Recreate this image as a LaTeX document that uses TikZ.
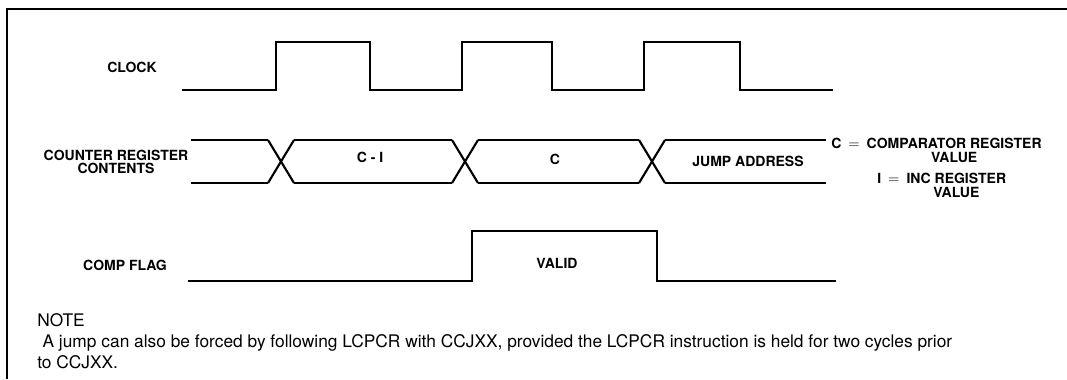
\documentclass[tikz,border=0pt]{standalone}
\usepackage{fontspec}
\setmainfont{TeX Gyre Heros}
\usetikzlibrary{positioning}

\tikzset{
  sig/.style={line width=1.6pt, line join=miter},
  lbl/.style={font=\fontsize{10.5}{9.5}\selectfont\bfseries, align=center, inner sep=0pt},
  notetxt/.style={font=\fontsize{13}{16}\selectfont, align=left, anchor=north west, inner sep=0pt}
}

\begin{document}
\begin{tikzpicture}[x=0.75pt,y=-0.75pt]
        \useasboundingbox (0,0) rectangle (1067,379);
        % Frame
        \draw[line width=1pt] (7,379) -- (7,9) -- (1067,9);

        % Levels
        \def\ckhi{42}  % clock high
        \def\cklo{90}  % clock low
        \def\bt{140}   % bus top
        \def\bb{183}   % bus bottom
        \def\w{13}     % half width of a crossing
        \def\fhi{231}  % flag high
        \def\flo{281}  % flag low

        % Clock
        \draw[sig] (182,\cklo) -| (276,\ckhi) -| (370,\cklo) -| (462,\ckhi)
                   -| (552,\cklo) -| (644,\ckhi) -| (740,\cklo) -- (833,\cklo);

        % Counter register bus
        \foreach \c in {281,465,652} {
            \draw[sig] (\c-\w,\bt) -- (\c+\w,\bb) (\c-\w,\bb) -- (\c+\w,\bt); % crossing
        }
        \foreach \a/\b in {191/268, 294/452, 478/639, 665/826} {
            \draw[sig] (\a,\bt) -- (\b,\bt) (\a,\bb) -- (\b,\bb);
        }

        % Comp flag
        \draw[sig] (188,\flo) -| (472,\fhi) -| (657,\flo) -- (836,\flo);

        % Signal names
        \node[lbl] (clk) at (132,67) {CLOCK};
        \node[lbl] (crc) at (116,162) {COUNTER REGISTER\\CONTENTS};
        \node[lbl] (flg) at (125,265) {COMP FLAG};

        % Values
        \node[lbl] (cmi) at (370,157) {C - I};
        \node[lbl] (cv) at (555,159) {C};
        \node[lbl] (jmp) at (748,161) {JUMP ADDRESS};
        \node[lbl] (vld) at (557,263) {VALID};

        % Key
        \node[lbl, anchor=west] (keyc) at (831,152)
            {\begin{tabular}{@{}r@{\enspace}c@{}}C\enspace$=$ & COMPARATOR REGISTER\\ & VALUE\end{tabular}};
        \node[lbl, anchor=west] (keyi) at (877,187)
            {\begin{tabular}{@{}r@{\enspace}c@{}}I\enspace$=$ & INC REGISTER\\ & VALUE\end{tabular}};

        % Note
        \node[notetxt] (nt) at (37,313) {NOTE\\
            \hspace*{4pt}A jump can also be forced by following LCPCR with CCJXX, provided the LCPCR instruction is held for two cycles prior\\
            to CCJXX.};
    \end{tikzpicture}
\end{document}
